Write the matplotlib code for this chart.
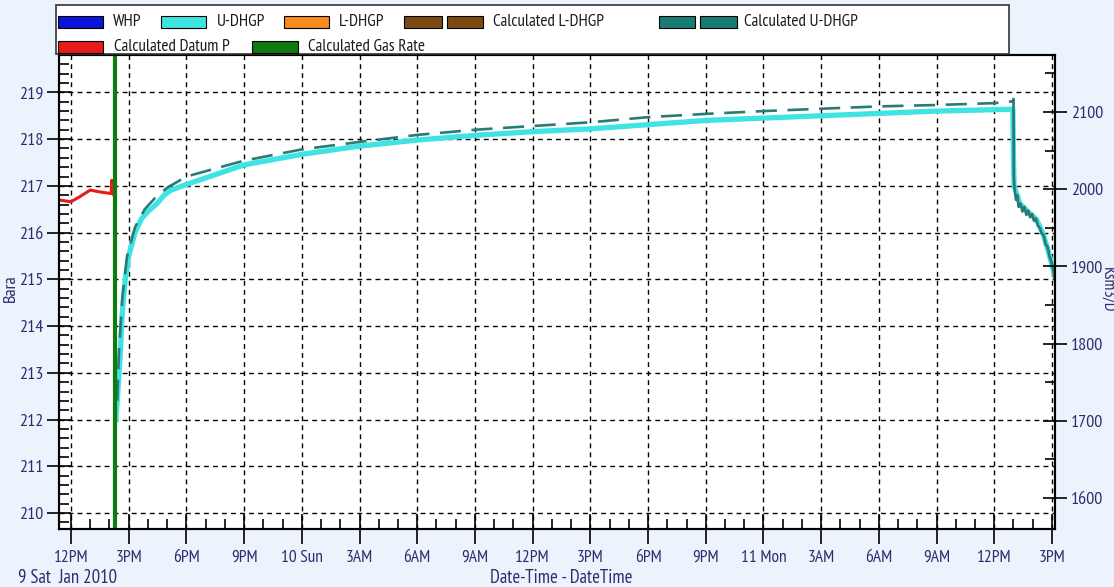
import matplotlib
matplotlib.use('Agg')
import pandas as pd
from matplotlib import pyplot as plt
from matplotlib.patches import Rectangle
from matplotlib.ticker import MultipleLocator, FixedLocator
import matplotlib.dates as mdates

plt.rcParams['font.family'] = ['PT Sans Narrow', 'Roboto Condensed', 'Fira Sans Condensed',
                               'Archivo Narrow', 'Liberation Sans Narrow', 'DejaVu Sans']

W, H = 1114, 587
BG = '#edf3fc'
NAVY = '#2c2c6e'
CYAN = '#3fe3e3'
TEAL = '#2a7a76'
RED = '#e81a1a'
GREEN = '#0f7a0f'

# U-DHGP (Bara)
udhgp_time = ['2010-01-09 14:20', '2010-01-09 14:25', '2010-01-09 14:33', '2010-01-09 14:40',
              '2010-01-09 14:49', '2010-01-09 15:00', '2010-01-09 15:20', '2010-01-09 15:40',
              '2010-01-09 16:00', '2010-01-09 16:28', '2010-01-09 16:50', '2010-01-09 17:09',
              '2010-01-09 18:00', '2010-01-09 21:00', '2010-01-10 00:05', '2010-01-10 03:00',
              '2010-01-10 06:00', '2010-01-10 09:00', '2010-01-10 12:00', '2010-01-10 15:00',
              '2010-01-10 18:00', '2010-01-10 21:00', '2010-01-11 00:00', '2010-01-11 03:00',
              '2010-01-11 06:00', '2010-01-11 09:00', '2010-01-11 12:00', '2010-01-11 12:58',
              '2010-01-11 13:00', '2010-01-11 13:02', '2010-01-11 13:20', '2010-01-11 13:52',
              '2010-01-11 14:12', '2010-01-11 14:32', '2010-01-11 14:48', '2010-01-11 14:59',
              '2010-01-11 15:08']
udhgp = [212.0, 212.5, 213.34, 214.3,
         214.98, 215.5, 216.01, 216.3,
         216.45, 216.62, 216.8, 216.9,
         217.03, 217.45, 217.68, 217.85,
         217.98, 218.08, 218.16, 218.22,
         218.31, 218.40, 218.45, 218.50,
         218.55, 218.60, 218.63, 218.64,
         217.6, 217.0, 216.62, 216.40,
         216.28, 215.98, 215.62, 215.34,
         215.1]

# Calculated U-DHGP (Bara), dashed part
calc_u_time = ['2010-01-09 14:24', '2010-01-09 14:30', '2010-01-09 14:40', '2010-01-09 14:55',
               '2010-01-09 15:20', '2010-01-09 15:50', '2010-01-09 16:22', '2010-01-09 17:00',
               '2010-01-09 18:00', '2010-01-09 21:00', '2010-01-10 00:00', '2010-01-10 03:00',
               '2010-01-10 06:00', '2010-01-10 09:00', '2010-01-10 12:00', '2010-01-10 15:00',
               '2010-01-10 18:00', '2010-01-10 21:00', '2010-01-11 00:00', '2010-01-11 03:00',
               '2010-01-11 06:00', '2010-01-11 09:00', '2010-01-11 12:00', '2010-01-11 12:58']
calc_u = [212.4, 213.5, 214.6, 215.5,
          216.12, 216.5, 216.74, 216.96,
          217.2, 217.54, 217.78, 217.94,
          218.09, 218.20, 218.28, 218.36,
          218.47, 218.54, 218.60, 218.65,
          218.70, 218.73, 218.77, 218.81]

# Calculated U-DHGP after the shut-in drop (noisy)
calc_u_tail_time = ['2010-01-11 12:58', '2010-01-11 13:00', '2010-01-11 13:01', '2010-01-11 13:03',
                    '2010-01-11 13:08', '2010-01-11 13:12', '2010-01-11 13:16', '2010-01-11 13:22',
                    '2010-01-11 13:28', '2010-01-11 13:34', '2010-01-11 13:40', '2010-01-11 13:46',
                    '2010-01-11 13:52', '2010-01-11 13:58', '2010-01-11 14:04', '2010-01-11 14:10',
                    '2010-01-11 14:16', '2010-01-11 14:22', '2010-01-11 14:28', '2010-01-11 14:34',
                    '2010-01-11 14:40', '2010-01-11 14:46', '2010-01-11 14:52', '2010-01-11 14:58',
                    '2010-01-11 15:04', '2010-01-11 15:08']
calc_u_tail = [218.81, 218.86, 217.2, 216.95,
               216.7, 216.8, 216.55, 216.62,
               216.45, 216.55, 216.38, 216.47,
               216.33, 216.40, 216.25, 216.30,
               216.15, 216.10, 215.98, 215.95,
               215.75, 215.70, 215.50, 215.38,
               215.20, 215.0]

# Calculated Datum P (Bara)
datum_time = ['2010-01-09 11:20', '2010-01-09 12:00', '2010-01-09 12:30', '2010-01-09 13:00',
              '2010-01-09 13:30', '2010-01-09 14:00', '2010-01-09 14:05', '2010-01-09 14:07',
              '2010-01-09 14:09', '2010-01-09 14:14']
datum_p = [216.70, 216.66, 216.78, 216.91,
           216.87, 216.84, 216.84, 217.12,
           216.85, 216.80]

# Calculated Gas Rate (Ksm3/D)
gas_time = ['2010-01-09 14:16', '2010-01-09 14:16']
gas_rate = [2400, 1400]

tick_times = pd.date_range('2010-01-09 12:00', '2010-01-11 15:00', freq='3h')
tick_labels = ['12PM', '3PM', '6PM', '9PM', '10 Sun', '3AM', '6AM', '9AM', '12PM',
               '3PM', '6PM', '9PM', '11 Mon', '3AM', '6AM', '9AM', '12PM', '3PM']

legend_names = ['WHP', 'U-DHGP', 'L-DHGP', 'Calculated L-DHGP', 'Calculated U-DHGP',
                'Calculated Datum P', 'Calculated Gas Rate']
legend_colors = ['#0a14d8', CYAN, '#f88a1e', '#7b4a12', '#1a7a74', RED, GREEN]


def fx(px):
    return px / W


def fy(py):
    return 1 - py / H


fig = plt.figure(figsize=(W / 100, H / 100), dpi=100, facecolor=BG)
ax = fig.add_axes([fx(59), fy(529), fx(1055 - 59), (529 - 55) / H])
ax2 = ax.twinx()

ax.plot(pd.to_datetime(datum_time), datum_p, color=RED, lw=2.2, zorder=3)
ax.plot(pd.to_datetime(udhgp_time), udhgp, color=CYAN, lw=3.8, zorder=3,
        solid_joinstyle='round')
ax.plot(pd.to_datetime(calc_u_time), calc_u, color=TEAL, lw=1.9, dashes=(8, 4), zorder=4)
ax.plot(pd.to_datetime(calc_u_tail_time), calc_u_tail, color=TEAL, lw=1.9, zorder=4)
ax2.plot(pd.to_datetime(gas_time), gas_rate, color=GREEN, lw=3)

ax.set_xlim(pd.Timestamp('2010-01-09 11:22:30'), pd.Timestamp('2010-01-11 15:09:30'))
ax.set_ylim(209.658, 219.80)
ax2.set_ylim(1559.8, 2173.8)

ax.xaxis.set_major_locator(FixedLocator(mdates.date2num(tick_times)))
ax.set_xticklabels(tick_labels)
ax.xaxis.set_minor_locator(mdates.HourLocator(interval=1))
ax.yaxis.set_major_locator(MultipleLocator(1))
ax.yaxis.set_minor_locator(MultipleLocator(0.2))
ax2.yaxis.set_major_locator(MultipleLocator(100))
ax2.yaxis.set_minor_locator(MultipleLocator(50))

ax.tick_params(axis='x', which='major', direction='inout', length=22, width=1.2,
               pad=4, labelsize=12.5, labelcolor=NAVY)
ax.tick_params(axis='x', which='minor', direction='in', length=7, width=1.2)
ax.tick_params(axis='y', which='major', direction='inout', length=17, width=1.2,
               pad=3, labelsize=13, labelcolor=NAVY)
ax.tick_params(axis='y', which='minor', direction='in', length=7, width=1.2)
ax2.tick_params(axis='y', which='major', direction='inout', length=17, width=1.2,
                pad=3, labelsize=13, labelcolor=NAVY)
ax2.tick_params(axis='y', which='minor', direction='in', length=7, width=1.2)

ax.set_axisbelow(True)
ax.grid(which='major', color='black', lw=1.0, dashes=(3.5, 3))
for a in (ax, ax2):
    for s in a.spines.values():
        s.set_linewidth(1.5)

# legend drawn as a separate box above the plot
fig.patches.append(Rectangle((fx(56), fy(54)), fx(1009 - 56), 49 / H,
                             transform=fig.transFigure, facecolor='white',
                             edgecolor='#333333', lw=1.2))
entries = [
    (22, [(58, 45)], 113),
    (22, [(161, 45)], 217),
    (22, [(284, 45)], 339),
    (22, [(404, 38), (447, 36)], 493),
    (22, [(659, 36), (700, 37)], 744),
    (47, [(58, 45)], 114),
    (47, [(252, 46)], 308),
]
for (ypx, patches, xtext), name, col in zip(entries, legend_names, legend_colors):
    for x0, w in patches:
        fig.patches.append(Rectangle((fx(x0), fy(ypx + 5.5)), fx(w), 11 / H,
                                     transform=fig.transFigure, facecolor=col,
                                     edgecolor='black', lw=0.8))
    fig.text(fx(xtext), fy(ypx), name, fontsize=12.3, color='#1a1a1a',
             ha='left', va='center')

fig.text(fx(11), fy(288), 'Bara', rotation=90, fontsize=13, color=NAVY,
         ha='center', va='center')
fig.text(fx(1107.5), fy(290), 'Ksm3/D', rotation=270, fontsize=12, color=NAVY,
         ha='center', va='center')
fig.text(fx(18), fy(578), '9 Sat  Jan 2010', fontsize=13.5, color=NAVY,
         ha='left', va='center')
fig.text(fx(561), fy(578), 'Date-Time - DateTime', fontsize=13.5, color=NAVY,
         ha='center', va='center')

fig.savefig('out.png', dpi=100, facecolor=BG)
